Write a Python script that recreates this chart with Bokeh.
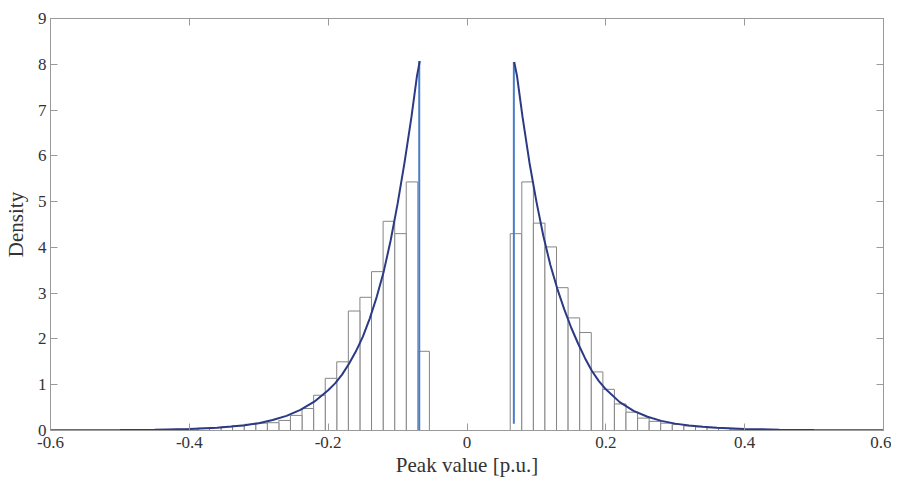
from bokeh.plotting import figure
from bokeh.models import LinearAxis, FixedTicker, CustomJSTickFormatter, Range1d
from bokeh.embed import file_html
from bokeh.resources import INLINE

# ---------------- data ----------------
bin_width = 0.01668

left_centers = [-0.0625, -0.0792, -0.0959, -0.1125, -0.1292, -0.1459, -0.1626,
                -0.1793, -0.1959, -0.2126, -0.2293, -0.2460, -0.2627, -0.2793,
                -0.2960, -0.3127, -0.3294, -0.3461, -0.3627, -0.3794, -0.3961,
                -0.4128, -0.4295]
left_density = [1.73, 5.43, 4.30, 4.57, 3.47, 2.91, 2.61,
                 1.50, 1.14, 0.77, 0.48, 0.33, 0.22, 0.17,
                 0.16, 0.135, 0.10, 0.08, 0.065, 0.05, 0.035,
                 0.025, 0.015]

right_centers = [0.0706, 0.0873, 0.1040, 0.1206, 0.1373, 0.1540, 0.1707,
                 0.1874, 0.2040, 0.2207, 0.2374, 0.2541, 0.2708, 0.2874,
                 0.3041, 0.3208, 0.3375, 0.3542, 0.3708, 0.3875, 0.4042,
                 0.4209]
right_density = [4.30, 5.43, 4.53, 4.01, 3.12, 2.46, 2.14,
                 1.28, 0.90, 0.58, 0.40, 0.27, 0.20, 0.16,
                 0.13, 0.10, 0.08, 0.06, 0.05, 0.03, 0.02,
                 0.015]

left_pdf_x = [-0.60, -0.55, -0.50, -0.45, -0.40, -0.36, -0.34, -0.32, -0.30,
              -0.28, -0.26, -0.24, -0.22, -0.20, -0.19, -0.18, -0.17, -0.16,
              -0.15, -0.14, -0.13, -0.12, -0.11, -0.10, -0.09, -0.08, -0.072,
              -0.068]
left_pdf_y = [0.003, 0.005, 0.009, 0.018, 0.035, 0.062, 0.085, 0.115, 0.16,
              0.23, 0.32, 0.45, 0.63, 0.88, 1.03, 1.22, 1.46, 1.73,
              2.05, 2.45, 2.92, 3.47, 4.15, 4.95, 5.85, 6.85, 7.75,
              8.07]

right_pdf_x = [0.068, 0.072, 0.08, 0.09, 0.10, 0.11, 0.12, 0.13, 0.14, 0.15,
               0.16, 0.17, 0.18, 0.19, 0.20, 0.22, 0.24, 0.26, 0.28, 0.30,
               0.32, 0.34, 0.36, 0.40, 0.45, 0.50, 0.55, 0.60]
right_pdf_y = [8.05, 7.75, 6.85, 5.85, 5.00, 4.25, 3.62, 3.10, 2.65, 2.25,
               1.90, 1.58, 1.30, 1.08, 0.90, 0.62, 0.43, 0.30, 0.21, 0.15,
               0.11, 0.08, 0.06, 0.035, 0.018, 0.009, 0.005, 0.003]

cut_x = [-0.0688, 0.0675]
cut_bottom = [0.0, 0.15]
cut_top = [8.07, 8.05]

x_ticks = [-0.6, -0.4, -0.2, 0, 0.2, 0.4, 0.6]
x_tick_labels = ["-0.6", "-0.4", "-0.2", "0", "0.2", "0.4", "0.6"]
y_ticks = [0, 1, 2, 3, 4, 5, 6, 7, 8, 9]

x_title = "Peak value [p.u.]"
y_title = "Density"

# ---------------- styles ----------------
FONT = "Liberation Serif"
TXT = "#333333"
AX = "#9a9a9a"
BAR_EDGE = "#858585"
CURVE = "#2c3985"
CUT = "#4a7cc9"

p = figure(width=891, height=480, output_backend="svg", toolbar_location=None,
           x_range=Range1d(-0.6, 0.6), y_range=Range1d(0, 9),
           min_border_left=49, min_border_right=8, min_border_top=18,
           min_border_bottom=50)
p.grid.visible = False
p.outline_line_color = AX
p.background_fill_color = "white"

# histogram bars
p.vbar(x=left_centers, top=left_density, width=bin_width, bottom=0,
       fill_color="white", line_color=BAR_EDGE, line_width=1)
p.vbar(x=right_centers, top=right_density, width=bin_width, bottom=0,
       fill_color="white", line_color=BAR_EDGE, line_width=1)

# vertical cut lines of fitted pdf
p.segment(x0=cut_x, y0=cut_bottom, x1=cut_x, y1=cut_top,
          line_color=CUT, line_width=2)

# fitted pdf curves
p.line(left_pdf_x, left_pdf_y, line_color=CURVE, line_width=2)
p.line(right_pdf_x, right_pdf_y, line_color=CURVE, line_width=2)

# axes
def style_axis(ax, ticks):
    ax.ticker = FixedTicker(ticks=ticks)
    ax.axis_line_color = AX
    ax.major_tick_line_color = AX
    ax.major_tick_in = 7
    ax.major_tick_out = 0
    ax.minor_tick_line_color = None
    ax.major_label_text_font = FONT
    ax.major_label_text_font_size = "17px"
    ax.major_label_text_color = TXT
    ax.axis_label_text_font = FONT
    ax.axis_label_text_font_size = "21px"
    ax.axis_label_text_font_style = "normal"
    ax.axis_label_text_color = TXT

xa = p.xaxis[0]
style_axis(xa, x_ticks)
xa.major_label_overrides = {t: s for t, s in zip(x_ticks, x_tick_labels)}
xa.major_label_standoff = 6
xa.axis_label = x_title
xa.axis_label_standoff = 2

ya = p.yaxis[0]
style_axis(ya, y_ticks)
ya.major_label_standoff = 4
ya.axis_label = y_title
ya.axis_label_standoff = 7

blank = CustomJSTickFormatter(code="return ''")
top_ax = LinearAxis(formatter=blank)
style_axis(top_ax, x_ticks)
top_ax.major_label_standoff = 0
top_ax.major_label_text_font_size = "1px"
p.add_layout(top_ax, "above")

right_ax = LinearAxis(formatter=blank)
style_axis(right_ax, y_ticks)
right_ax.major_label_standoff = 0
right_ax.major_label_text_font_size = "1px"
p.add_layout(right_ax, "right")

open("out.html", "w").write(file_html(p, INLINE))
